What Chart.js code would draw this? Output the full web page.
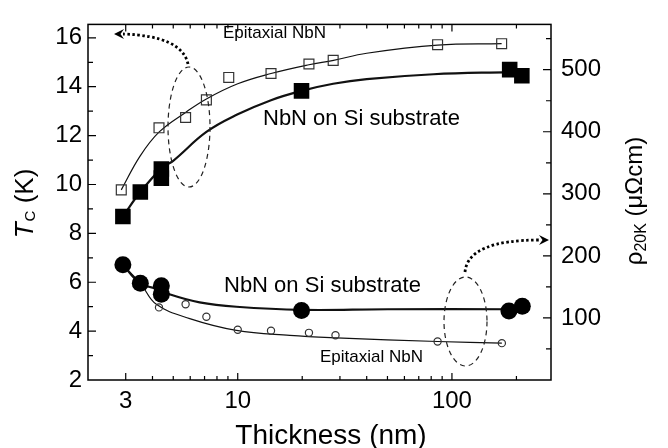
<!DOCTYPE html>
<html>
<head>
<meta charset="utf-8">
<script src="https://cdn.jsdelivr.net/npm/chart.js@4.4.1/dist/chart.umd.min.js"></script>
<style>
  html, body { margin: 0; padding: 0; background: #fff; }
  #wrap { width: 668px; height: 448px; }
</style>
</head>
<body>
<div id="wrap"><canvas id="chart"></canvas></div>
<script>
const FONT = "'Liberation Sans', Arial, Helvetica, sans-serif"

// thickness (nm)
const epiTcX = [2.86, 4.29, 5.71, 7.14, 9.08, 14.3, 21.5, 27.9, 85.7, 170.6]
const epiTc = [9.78, 12.32, 12.74, 13.46, 14.38, 14.54, 14.93, 15.08, 15.72, 15.76]

const siTcX = [2.91, 3.51, 4.4, 4.4, 19.85, 186, 212]
const siTc = [8.69, 9.69, 10.26, 10.63, 13.83, 14.7, 14.45]

const siRhoX = [2.91, 3.51, 4.4, 4.4, 19.85, 184.5, 213]
const siRho = [185.6, 156, 152, 138, 112, 111, 119]

const epiRhoX = [4.29, 5.71, 7.14, 10.0, 14.3, 21.5, 28.6, 85.7, 171]
const epiRho = [117, 122, 102, 81, 79.5, 76, 72, 62, 59.4]

// guide curves
const epiTcFitX = [2.86, 3.5, 4.3, 5.71, 7.14, 10, 14.3, 21.5, 28, 40, 85.7, 170.6]
const epiTcFit = [9.78, 11.16, 12.15, 12.95, 13.5, 14.12, 14.54, 14.9, 15.08, 15.37, 15.7, 15.76]

const siTcFitX = [2.91, 3.51, 4.45, 4.98, 7.14, 10, 14.3, 19.85, 27.9, 40, 82, 186]
const siTcFit = [8.69, 9.69, 10.7, 10.96, 12.15, 12.87, 13.45, 13.83, 14.12, 14.31, 14.51, 14.6]

const siRhoFitX = [2.91, 3.51, 4.4, 4.81, 6.64, 9.86, 19.85, 50, 184.5]
const siRhoFit = [185.6, 156, 145, 138, 125, 118, 113, 114, 114]

const epiRhoFitX = [2.91, 3.51, 4.17, 5.97, 9.86, 17.5, 28.9, 85.7, 171]
const epiRhoFit = [185, 156, 122, 99, 80, 72, 68, 62, 59.4]

// axes
const xTicks = [2, 3, 4, 5, 6, 7, 8, 9, 10, 20, 30, 40, 50, 60, 70, 80, 90, 100, 200]
const xLabels = [3, 10, 100]
const yTicks = [2, 3, 4, 5, 6, 7, 8, 9, 10, 11, 12, 13, 14, 15, 16]
const yLabels = [2, 4, 6, 8, 10, 12, 14, 16]
const y2Ticks = [0, 50, 100, 150, 200, 250, 300, 350, 400, 450, 500, 550]
const y2Labels = [100, 200, 300, 400, 500]

const pts = (xs, ys) => xs.map((x, i) => ({ x: x, y: ys[i] }))

function arrowHead(ctx, x, y, dir) {
  ctx.beginPath()
  ctx.moveTo(x, y)
  ctx.lineTo(x - dir * 10, y - 5)
  ctx.lineTo(x - dir * 6.5, y)
  ctx.lineTo(x - dir * 10, y + 5)
  ctx.closePath()
  ctx.fill()
}

const decorations = {
  id: "decorations",
  afterDraw(chart) {
    const { ctx, chartArea: a, scales } = chart
    ctx.save()
    ctx.strokeStyle = "#000"
    ctx.fillStyle = "#000"

    // frame and inward ticks
    ctx.lineWidth = 1.5
    ctx.strokeRect(a.left, a.top, a.right - a.left, a.bottom - a.top)
    ctx.lineWidth = 1.2
    ctx.beginPath()
    xTicks.forEach(v => {
      const px = scales.x.getPixelForValue(v)
      if (px <= a.left + 1 || px >= a.right - 1) return
      const len = xLabels.includes(v) ? 7 : 4
      ctx.moveTo(px, a.bottom); ctx.lineTo(px, a.bottom - len)
      ctx.moveTo(px, a.top); ctx.lineTo(px, a.top + len)
    })
    yTicks.forEach(v => {
      const py = scales.y.getPixelForValue(v)
      if (py >= a.bottom - 1) return
      const len = yLabels.includes(v) ? 8 : 5
      ctx.moveTo(a.left, py); ctx.lineTo(a.left + len, py)
    })
    y2Ticks.forEach(v => {
      const py = scales.y2.getPixelForValue(v)
      if (py >= a.bottom - 1) return
      const len = y2Labels.includes(v) ? 8 : 5
      ctx.moveTo(a.right, py); ctx.lineTo(a.right - len, py)
    })
    ctx.stroke()

    // axis titles
    ctx.textAlign = "center"
    ctx.textBaseline = "alphabetic"
    ctx.font = "28px " + FONT
    ctx.fillText("Thickness (nm)", 331, 444)

    ctx.save()
    ctx.translate(33, 204)
    ctx.rotate(-Math.PI / 2)
    ctx.textAlign = "left"
    ctx.font = "italic 26px " + FONT
    const wT = ctx.measureText("T").width
    ctx.font = "15px " + FONT
    const wC = ctx.measureText("C").width
    ctx.font = "26px " + FONT
    const wK = ctx.measureText(" (K)").width
    let x0 = -(wT + wC + wK) / 2
    ctx.font = "italic 26px " + FONT
    ctx.fillText("T", x0, 0)
    ctx.font = "15px " + FONT
    ctx.fillText("C", x0 + wT + 1, 2)
    ctx.font = "26px " + FONT
    ctx.fillText(" (K)", x0 + wT + wC + 1, 0)
    ctx.restore()

    ctx.save()
    ctx.translate(642, 201)
    ctx.rotate(-Math.PI / 2)
    ctx.textAlign = "left"
    ctx.font = "24px " + FONT
    const wRho = ctx.measureText("\u03C1").width
    const wUnit = ctx.measureText(" (\u03BC\u03A9cm)").width
    ctx.font = "16px " + FONT
    const wSub = ctx.measureText("20K").width
    x0 = -(wRho + wSub + wUnit) / 2
    ctx.font = "24px " + FONT
    ctx.fillText("\u03C1", x0, 0)
    ctx.font = "16px " + FONT
    ctx.fillText("20K", x0 + wRho, 4)
    ctx.font = "24px " + FONT
    ctx.fillText(" (\u03BC\u03A9cm)", x0 + wRho + wSub, 0)
    ctx.restore()

    // in-plot labels
    ctx.textAlign = "left"
    ctx.font = "17px " + FONT
    ctx.fillText("Epitaxial NbN", 223, 38)
    ctx.fillText("Epitaxial NbN", 320, 362)
    ctx.font = "22px " + FONT
    ctx.fillText("NbN on Si substrate", 263, 125)
    ctx.fillText("NbN on Si substrate", 224, 292)

    // dashed ellipses
    ctx.lineWidth = 1.2
    ctx.strokeStyle = "#222"
    ctx.setLineDash([5, 4])
    ctx.beginPath()
    ctx.ellipse(189, 127, 21, 60, 0, 0, Math.PI * 2)
    ctx.stroke()
    ctx.beginPath()
    ctx.ellipse(465.5, 321.5, 21.5, 44.5, 0, 0, Math.PI * 2)
    ctx.stroke()

    // dotted arrows
    ctx.lineWidth = 2.8
    ctx.strokeStyle = "#000"
    ctx.setLineDash([2.5, 2.5])
    ctx.beginPath()
    ctx.moveTo(188, 64)
    ctx.quadraticCurveTo(182, 36, 123, 34)
    ctx.stroke()
    ctx.beginPath()
    ctx.moveTo(465, 272)
    ctx.quadraticCurveTo(468, 240, 540, 240)
    ctx.stroke()
    ctx.setLineDash([])
    arrowHead(ctx, 114, 34, -1)
    arrowHead(ctx, 549, 240, 1)

    ctx.restore()
  },
}

const fitLine = (data, yAxisID, width) => ({
  type: "line",
  data: data,
  yAxisID: yAxisID,
  borderColor: "#111",
  borderWidth: width,
  pointRadius: 0,
  fill: false,
  tension: 0.4,
  order: 2,
})

const marks = (data, yAxisID, style, radius, filled) => ({
  type: "scatter",
  data: data,
  yAxisID: yAxisID,
  showLine: false,
  pointStyle: style,
  pointRadius: radius,
  pointBorderWidth: filled ? 0 : 1.2,
  pointBorderColor: filled ? "#000" : "#333",
  pointBackgroundColor: filled ? "#000" : "rgba(0,0,0,0)",
  order: 1,
})

new Chart(document.getElementById("chart"), {
  type: "scatter",
  data: {
    datasets: [
      fitLine(pts(epiTcFitX, epiTcFit), "y", 1.2),
      fitLine(pts(siTcFitX, siTcFit), "y", 2.2),
      fitLine(pts(siRhoFitX, siRhoFit), "y2", 2.2),
      fitLine(pts(epiRhoFitX, epiRhoFit), "y2", 1.2),
      marks(pts(epiTcX, epiTc), "y", "rect", 7, false),
      marks(pts(siTcX, siTc), "y", "rect", 11, true),
      marks(pts(siRhoX, siRho), "y2", "circle", 8.5, true),
      marks(pts(epiRhoX, epiRho), "y2", "circle", 3.6, false),
    ],
  },
  options: {
    responsive: true,
    maintainAspectRatio: false,
    animation: false,
    layout: { padding: { top: 10, left: 0, right: 0, bottom: 0 } },
    plugins: { legend: { display: false }, tooltip: { enabled: false } },
    scales: {
      x: {
        type: "logarithmic",
        min: 2,
        max: 290,
        grid: { display: false, drawTicks: false },
        border: { display: false },
        afterBuildTicks: s => { s.ticks = xTicks.map(v => ({ value: v })) },
        afterFit: s => { s.height = 68 },
        ticks: {
          autoSkip: false,
          maxRotation: 0,
          padding: 7,
          color: "#000",
          font: { family: FONT, size: 24 },
          callback: v => (xLabels.includes(v) ? String(v) : ""),
        },
      },
      y: {
        position: "left",
        min: 2,
        max: 16.55,
        grid: { display: false, drawTicks: false },
        border: { display: false },
        afterBuildTicks: s => { s.ticks = yTicks.map(v => ({ value: v })) },
        afterFit: s => { s.width = 88 },
        ticks: {
          autoSkip: false,
          padding: 6,
          color: "#000",
          font: { family: FONT, size: 24 },
          callback: v => (yLabels.includes(v) ? String(v) : ""),
        },
      },
      y2: {
        position: "right",
        min: 0,
        max: 573,
        grid: { display: false, drawTicks: false },
        border: { display: false },
        afterBuildTicks: s => { s.ticks = y2Ticks.map(v => ({ value: v })) },
        afterFit: s => { s.width = 117 },
        ticks: {
          autoSkip: false,
          padding: 10,
          color: "#000",
          font: { family: FONT, size: 24 },
          callback: v => (y2Labels.includes(v) ? String(v) : ""),
        },
      },
    },
  },
  plugins: [decorations],
})
</script>
</body>
</html>
